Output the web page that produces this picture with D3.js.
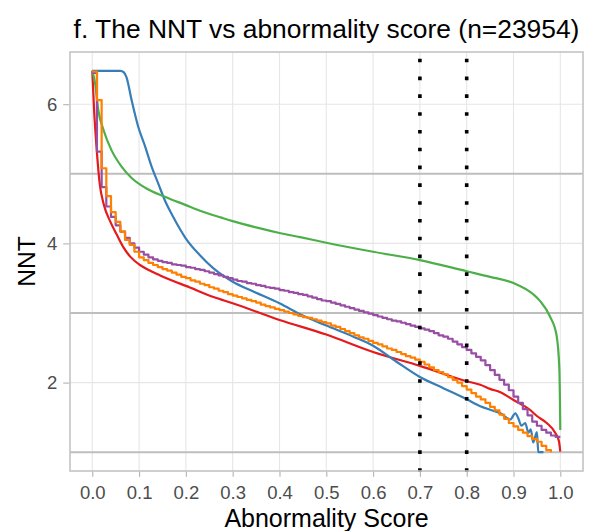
<!DOCTYPE html>
<html>
<head>
<meta charset="utf-8">
<script src="https://cdn.jsdelivr.net/npm/d3@7"></script>
<style>
  body { margin: 0; background: #fff; }
  text { font-family: "Liberation Sans", Arial, sans-serif; }
</style>
</head>
<body>
<div id="chart"></div>
<script>
// axis ticks and reference lines
var xTicks = [0, 0.1, 0.2, 0.3, 0.4, 0.5, 0.6, 0.7, 0.8, 0.9, 1.0];
var yTicks = [2, 4, 6];
var refLines = [1, 3, 5];
var cutoffs = [0.7, 0.8];

// smooth curves, [score, NNT]
var redPts = [[0.000, 6.48], [0.004, 5.90], [0.009, 5.39], [0.016, 4.85], [0.025, 4.55], [0.038, 4.32],
	[0.052, 4.13], [0.066, 3.95], [0.081, 3.81], [0.102, 3.69], [0.123, 3.61], [0.145, 3.54],
	[0.173, 3.46], [0.200, 3.39], [0.259, 3.23], [0.300, 3.14], [0.400, 2.90], [0.500, 2.69],
	[0.600, 2.44], [0.700, 2.24], [0.800, 2.02], [0.829, 1.97], [0.850, 1.91], [0.872, 1.86],
	[0.900, 1.75], [0.935, 1.61], [0.950, 1.52], [0.971, 1.42], [0.989, 1.28], [0.997, 1.16], [1.000, 1.01]];

var bluePts = [[0.000, 6.48], [0.030, 6.48], [0.060, 6.48], [0.067, 6.46], [0.073, 6.39], [0.084, 6.06],
	[0.098, 5.68], [0.113, 5.39], [0.127, 5.10], [0.141, 4.86], [0.155, 4.62], [0.173, 4.38],
	[0.200, 4.07], [0.230, 3.83], [0.259, 3.64], [0.300, 3.45], [0.344, 3.31], [0.400, 3.14],
	[0.451, 2.96], [0.500, 2.82], [0.558, 2.66], [0.600, 2.53], [0.650, 2.30], [0.700, 2.08],
	[0.750, 1.92], [0.800, 1.76], [0.829, 1.66], [0.850, 1.61], [0.872, 1.56], [0.893, 1.47],
	[0.904, 1.56], [0.910, 1.49], [0.917, 1.38], [0.925, 1.42], [0.932, 1.28], [0.937, 1.33],
	[0.942, 1.14], [0.950, 1.29], [0.953, 1.00], [0.964, 1.00]];

var greenPts = [[0.000, 6.48], [0.006, 6.30], [0.013, 5.91], [0.024, 5.63], [0.041, 5.34], [0.063, 5.10],
	[0.084, 4.94], [0.113, 4.80], [0.155, 4.67], [0.200, 4.55], [0.230, 4.47], [0.276, 4.37],
	[0.300, 4.32], [0.350, 4.23], [0.400, 4.15], [0.444, 4.09], [0.500, 4.01], [0.600, 3.88],
	[0.700, 3.76], [0.800, 3.60], [0.850, 3.52], [0.900, 3.43], [0.942, 3.27], [0.957, 3.17],
	[0.978, 2.95], [0.992, 2.68], [0.998, 2.20], [1.000, 1.32]];

// stepped curves, one NNT per score bin of width 0.01
var purpleNNT = [6.45, 5.32, 4.81, 4.53, 4.38, 4.26, 4.17, 4.08, 4.00, 3.94,
	3.88, 3.84, 3.80, 3.77, 3.75, 3.73, 3.72, 3.70, 3.69, 3.68,
	3.66, 3.65, 3.63, 3.62, 3.60, 3.58, 3.56, 3.54, 3.52, 3.50,
	3.48, 3.46, 3.45, 3.43, 3.42, 3.40, 3.39, 3.37, 3.36, 3.35,
	3.33, 3.32, 3.30, 3.29, 3.27, 3.26, 3.24, 3.22, 3.20, 3.18,
	3.17, 3.15, 3.13, 3.11, 3.09, 3.07, 3.05, 3.03, 3.01, 2.99,
	2.97, 2.95, 2.93, 2.91, 2.89, 2.88, 2.86, 2.84, 2.82, 2.80,
	2.78, 2.76, 2.74, 2.71, 2.68, 2.66, 2.63, 2.59, 2.55, 2.51,
	2.47, 2.42, 2.37, 2.32, 2.25, 2.18, 2.11, 2.04, 1.97, 1.89,
	1.80, 1.71, 1.62, 1.53, 1.44, 1.38, 1.32, 1.28, 1.24, 1.22, 1.22];

var orangeNNT = [6.47, 6.06, 5.08, 4.68, 4.45, 4.31, 4.17, 4.05, 3.98, 3.88,
	3.80, 3.76, 3.72, 3.69, 3.66, 3.63, 3.61, 3.58, 3.55, 3.52,
	3.50, 3.47, 3.45, 3.42, 3.40, 3.37, 3.35, 3.32, 3.30, 3.27,
	3.25, 3.23, 3.21, 3.19, 3.17, 3.15, 3.12, 3.10, 3.08, 3.06,
	3.04, 3.02, 3.00, 2.98, 2.96, 2.94, 2.93, 2.91, 2.89, 2.87,
	2.85, 2.82, 2.80, 2.77, 2.74, 2.71, 2.68, 2.65, 2.63, 2.60,
	2.57, 2.55, 2.52, 2.49, 2.47, 2.44, 2.41, 2.38, 2.36, 2.33,
	2.30, 2.26, 2.22, 2.18, 2.15, 2.12, 2.08, 2.04, 2.00, 1.95,
	1.90, 1.85, 1.80, 1.76, 1.71, 1.65, 1.60, 1.54, 1.48, 1.42,
	1.37, 1.32, 1.28, 1.23, 1.19, 1.15, 1.09, 1.03, 1.00];

var width = 595;
var height = 531;
var panel = {left: 70, right: 583, top: 52, bottom: 471};

var svg = d3.select('#chart')
	.append('svg')
	.attr('width', width)
	.attr('height', height);

svg.append('rect')
	.attr('width', width)
	.attr('height', height)
	.attr('fill', '#fff');

// scales
var x_scale = d3.scaleLinear()
	.domain([-0.0476, 1.0485])
	.range([panel.left, panel.right]);
var y_scale = d3.scaleLinear()
	.domain([0.73, 6.75])
	.range([panel.bottom, panel.top]);

// grid
svg.append('g').selectAll('line')
	.data(xTicks)
	.enter()
	.append('line')
	.attr('x1', function(d){ return x_scale(d); })
	.attr('x2', function(d){ return x_scale(d); })
	.attr('y1', panel.top)
	.attr('y2', panel.bottom)
	.attr('stroke', '#e6e6e6')
	.attr('stroke-width', 1.1);
svg.append('g').selectAll('line')
	.data(yTicks)
	.enter()
	.append('line')
	.attr('x1', panel.left)
	.attr('x2', panel.right)
	.attr('y1', function(d){ return y_scale(d); })
	.attr('y2', function(d){ return y_scale(d); })
	.attr('stroke', '#e6e6e6')
	.attr('stroke-width', 1.1);

// grey reference lines
svg.append('g').selectAll('line')
	.data(refLines)
	.enter()
	.append('line')
	.attr('x1', panel.left)
	.attr('x2', panel.right)
	.attr('y1', function(d){ return y_scale(d); })
	.attr('y2', function(d){ return y_scale(d); })
	.attr('stroke', '#bebebe')
	.attr('stroke-width', 2);

// curves
var smooth = d3.line()
	.x(function(d){ return x_scale(d[0]); })
	.y(function(d){ return y_scale(d[1]); })
	.curve(d3.curveMonotoneX);
var stepped = d3.line()
	.x(function(d, i){ return x_scale(i / 100); })
	.y(function(d){ return y_scale(d); })
	.curve(d3.curveStepAfter);

var series = [
	{pts: redPts, line: smooth, color: '#E41A1C'},
	{pts: bluePts, line: smooth, color: '#377EB8'},
	{pts: greenPts, line: smooth, color: '#4DAF4A'},
	{pts: purpleNNT, line: stepped, color: '#984EA3'},
	{pts: orangeNNT, line: stepped, color: '#FF7F00'}
];
series.forEach(function(s){
	svg.append('path')
		.attr('d', s.line(s.pts))
		.attr('fill', 'none')
		.attr('stroke', s.color)
		.attr('stroke-width', 2.2)
		.attr('stroke-linejoin', 'round');
});

// dotted cut-offs
svg.append('g').selectAll('line')
	.data(cutoffs)
	.enter()
	.append('line')
	.attr('x1', function(d){ return x_scale(d); })
	.attr('x2', function(d){ return x_scale(d); })
	.attr('y1', panel.bottom + 0.75)
	.attr('y2', panel.top)
	.attr('stroke', '#000')
	.attr('stroke-width', 3.6)
	.attr('stroke-dasharray', '3.6,14.2');

// panel border
svg.append('rect')
	.attr('x', panel.left)
	.attr('y', panel.top)
	.attr('width', panel.right - panel.left)
	.attr('height', panel.bottom - panel.top)
	.attr('fill', 'none')
	.attr('stroke', '#c4c4c4')
	.attr('stroke-width', 1.6);

// axes
var x_axis = d3.axisBottom(x_scale)
	.tickValues(xTicks)
	.tickSize(5)
	.tickPadding(9)
	.tickFormat(d3.format('.1f'));
var gx = svg.append('g')
	.attr('transform', 'translate(0,' + (panel.bottom + 0.8) + ')')
	.call(x_axis);

var y_axis = d3.axisLeft(y_scale)
	.tickValues(yTicks)
	.tickSize(6)
	.tickPadding(6)
	.tickFormat(d3.format('d'));
var gy = svg.append('g')
	.attr('transform', 'translate(' + (panel.left - 0.8) + ',0)')
	.call(y_axis);

[gx, gy].forEach(function(g){
	g.select('.domain').remove();
	g.selectAll('.tick line').attr('stroke', '#b3b3b3').attr('stroke-width', 1.1);
	g.selectAll('.tick text')
		.attr('fill', '#4d4d4d')
		.style('font-size', '18.5px')
		.style('font-family', '"Liberation Sans", Arial, sans-serif');
});

// titles
svg.append('text')
	.attr('x', (panel.left + panel.right) / 2)
	.attr('y', 38)
	.attr('text-anchor', 'middle')
	.style('font-size', '26.4px')
	.text('f. The NNT vs abnormality score (n=23954)');

svg.append('text')
	.attr('x', (panel.left + panel.right) / 2)
	.attr('y', 527)
	.attr('text-anchor', 'middle')
	.style('font-size', '25px')
	.text('Abnormality Score');

svg.append('text')
	.attr('transform', 'translate(35,' + ((panel.top + panel.bottom) / 2) + ') rotate(-90)')
	.attr('text-anchor', 'middle')
	.style('font-size', '24.5px')
	.text('NNT');
</script>
</body>
</html>
